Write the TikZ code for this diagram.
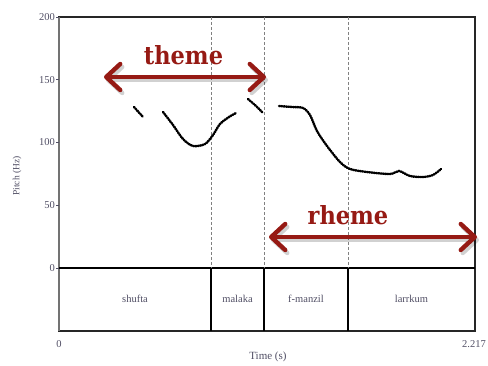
\documentclass[tikz,border=0pt]{standalone}
\usepackage{fontspec}
\setmainfont{Liberation Serif}
\newfontfamily\slabfont{DejaVu Serif Condensed}
\usetikzlibrary{arrows.meta, positioning}

\definecolor{themered}{RGB}{150,26,20}
\definecolor{lblgray}{RGB}{80,78,100}

\begin{document}
\begin{tikzpicture}[x=1pt, y=-1pt,
    tick-lbl/.style={font=\fontsize{10.5}{11}\selectfont, text=lblgray, inner sep=1pt},
    tier-lbl/.style={font=\fontsize{10.5}{11}\selectfont, text=lblgray},
    big-lbl/.style={font=\slabfont\bfseries\fontsize{25}{25}\selectfont, text=themered, inner sep=0pt},
    big-arr/.style={draw=themered, line width=4.4pt,
      {Straight Barb[length=14pt, width=26pt, line width=4.4pt, round]}-{Straight Barb[length=14pt, width=26pt, line width=4.4pt, round]}},
    arr-shadow/.style={big-arr, draw=black, opacity=0.18, transform canvas={xshift=2pt, yshift=-3pt}},
    pitch/.style={line width=2.4pt, line cap=round, dash pattern=on 1.2pt off 1.1pt},
    bound/.style={gray, line width=0.5pt, densely dashed}
  ]

\useasboundingbox (0,0) rectangle (488,366);

%% pitch area and tier below it
  \draw[line width=1.5pt, black!85] (59,17) rectangle (475,331);
  \draw[line width=2.2pt, black!55] (59,17) -- (59,331);
  \draw[line width=1.5pt] (59,268) -- (475,268);

%% word boundaries: dashed above the tier, solid inside it
  \foreach \bx in {211,264,348} {
    \draw[bound] (\bx,17) -- (\bx,268);
    \draw[line width=1.5pt] (\bx,268) -- (\bx,331);
  }

%% y axis ticks
  \foreach \hz/\py in {200/17, 150/79.75, 100/142.5, 50/205.25, 0/268} {
    \draw[lblgray, line width=0.8pt] (56,\py) -- (59,\py);
    \node[tick-lbl, left] (hz-\hz) at (56,\py) {\hz};
  }
  \node[tick-lbl] (t-start) at (59,344) {0};
  \node[tick-lbl] (t-end) at (474,344) {2.217};
  \node[tick-lbl, font=\fontsize{11}{11}\selectfont] (xlab) at (268,357) {Time (s)};
  \node[tick-lbl, font=\fontsize{9.5}{10}\selectfont, rotate=90] (ylab) at (17,176) {Pitch (Hz)};

%% words
  \node[tier-lbl] (shufta) at (135,299) {shufta};
  \node[tier-lbl] (malaka) at (237.5,299) {malaka};
  \node[tier-lbl] (fmanzil) at (306,299) {f-manzil};
  \node[tier-lbl] (larrkum) at (411.5,299) {larrkum};

%% pitch contour
  \draw[pitch] plot[smooth] coordinates {(134,107) (138.5,112) (143,117)};
  \draw[pitch] plot[smooth] coordinates {(163,112) (173,125) (183,139) (193,146) (205,144)
    (213,135) (220,124) (229,117) (236,113)};
  \draw[pitch] plot[smooth] coordinates {(248,99) (256,106) (263,113)};
  \draw[pitch] plot[smooth] coordinates {(279,106) (292,107) (303,108) (310,115) (317,131)
    (327,146) (340,162) (350,169) (367,172) (390,174) (399,171) (410,176) (423,177)
    (433,175) (441,169)};

%% theme / rheme arrows
  \coordinate (theme-l) at (104,77);
  \coordinate (theme-r) at (266,77);
  \coordinate (rheme-l) at (269,237);
  \coordinate (rheme-r) at (477,237);

  \draw[arr-shadow] (theme-l) -- (theme-r);
  \draw[big-arr] (theme-l) -- (theme-r);
  \node[big-lbl] (theme) at (183.5,55) {theme};

  \draw[arr-shadow] (rheme-l) -- (rheme-r);
  \draw[big-arr] (rheme-l) -- (rheme-r);
  \node[big-lbl] (rheme) at (348,215) {rheme};

\end{tikzpicture}
\end{document}
